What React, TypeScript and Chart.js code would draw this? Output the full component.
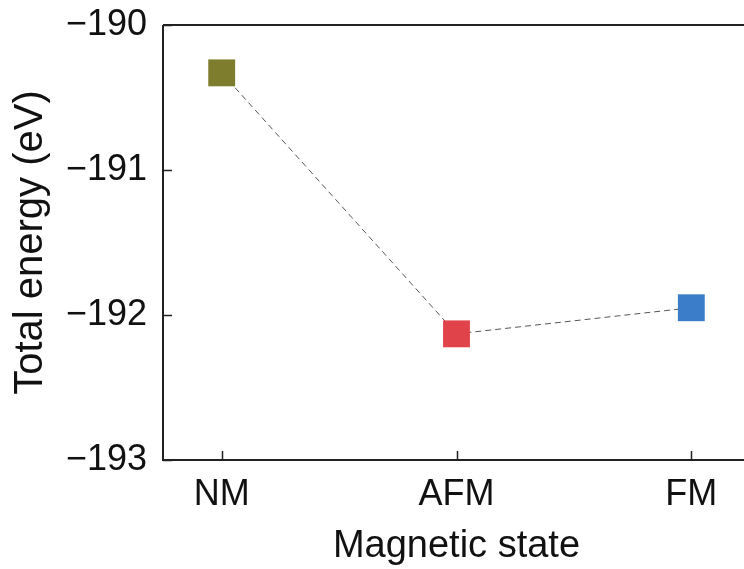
import React, { useEffect, useRef } from "react";
import { Chart, registerables } from "chart.js";

Chart.register(...registerables);

const categories = ["NM", "AFM", "FM"];
const energies = [-190.33, -192.13, -191.95];
const pointColors = ["#7e7d2e", "#e0434a", "#3b7dc8"];
const yTicks = [-190, -191, -192, -193];

const FONT = "'Liberation Sans', Arial, Helvetica, sans-serif";

const framePlugin = {
  id: "frame",
  afterDatasetsDraw(chart: any) {
    const { ctx, chartArea, scales } = chart;
    const x = scales.x;
    const y = scales.y;
    ctx.save();
    ctx.strokeStyle = "#222";
    ctx.lineWidth = 2;
    ctx.beginPath();
    ctx.moveTo(chartArea.left, chartArea.top);
    ctx.lineTo(chartArea.right, chartArea.top);
    ctx.moveTo(chartArea.left, chartArea.top);
    ctx.lineTo(chartArea.left, chartArea.bottom);
    ctx.lineTo(chartArea.right, chartArea.bottom);
    ctx.stroke();
    ctx.lineWidth = 1.5;
    ctx.beginPath();
    for (const v of yTicks) {
      const py = Math.round(y.getPixelForValue(v)) + 0.5;
      ctx.moveTo(chartArea.left, py);
      ctx.lineTo(chartArea.left + 9, py);
    }
    categories.forEach((_, i) => {
      const px = Math.round(x.getPixelForValue(i)) + 0.5;
      ctx.moveTo(px, chartArea.bottom);
      ctx.lineTo(px, chartArea.bottom - 9);
    });
    ctx.stroke();
    ctx.restore();
  },
};

export default function App() {
  const ref = useRef<HTMLCanvasElement>(null);
  useEffect(() => {
    if (!ref.current) return;
    const chart = new Chart(ref.current, {
      type: "line",
      data: {
        datasets: [
          {
            data: energies.map((v, i) => ({ x: i, y: v })),
            borderColor: "#555",
            borderWidth: 1,
            borderDash: [6, 4],
            pointStyle: "rect",
            pointRadius: 19,
            pointHoverRadius: 19,
            pointBackgroundColor: pointColors,
            pointBorderColor: pointColors,
            pointBorderWidth: 0,
            fill: false,
          },
        ],
      },
      options: {
        animation: false,
        responsive: false,
        devicePixelRatio: 1,
        layout: { padding: { top: 25, right: 20, left: 0, bottom: 0 } },
        plugins: { legend: { display: false }, tooltip: { enabled: false } },
        scales: {
          x: {
            type: "linear",
            min: -0.25,
            max: 2.25,
            grid: { display: false },
            border: { display: false },
            afterBuildTicks: (s: any) => {
              s.ticks = categories.map((_, i) => ({ value: i }));
            },
            afterFit: (s: any) => {
              s.height = 109;
              s.paddingLeft = 0;
              s.paddingRight = 0;
            },
            ticks: {
              autoSkip: false,
              maxRotation: 0,
              padding: 5,
              color: "#111",
              font: { family: FONT, size: 36 },
              callback: (v: any) => categories[v as number] ?? "",
            },
            title: {
              display: true,
              text: "Magnetic state",
              color: "#111",
              font: { family: FONT, size: 38 },
              padding: { top: 0, bottom: 0 },
            },
          },
          y: {
            type: "linear",
            min: -193,
            max: -190,
            grid: { display: false },
            border: { display: false },
            afterBuildTicks: (s: any) => {
              s.ticks = yTicks.map((v) => ({ value: v }));
            },
            afterFit: (s: any) => {
              s.width = 163;
              s.paddingTop = 0;
              s.paddingBottom = 0;
            },
            ticks: {
              padding: 8,
              color: "#111",
              font: { family: FONT, size: 36 },
              callback: (v: any) => "\u2212" + Math.abs(v as number),
            },
            title: {
              display: true,
              text: "Total energy (eV)",
              color: "#111",
              font: { family: FONT, size: 40 },
              padding: { top: 7, bottom: 0 },
            },
          },
        },
      },
      plugins: [framePlugin],
    });
    return () => chart.destroy();
  }, []);
  return (
    <div
      style={{
        position: "fixed",
        left: 0,
        top: 0,
        width: 744,
        height: 569,
        overflow: "hidden",
        background: "#fff",
      }}
    >
      <canvas ref={ref} width={770} height={569} style={{ display: "block" }} />
    </div>
  );
}
